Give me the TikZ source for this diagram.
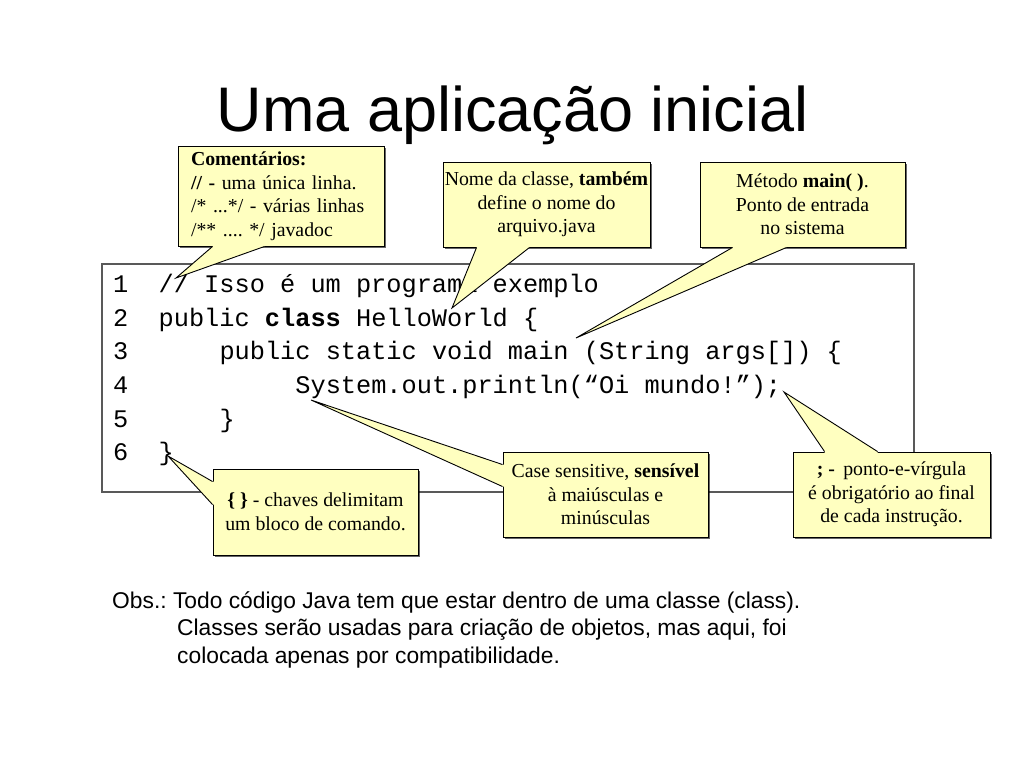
\documentclass[tikz,border=0pt]{standalone}
\usepackage{fontspec}
\setmainfont{Liberation Serif}
\setsansfont{Liberation Sans}
\setmonofont{Liberation Mono}
\usetikzlibrary{shadows}
\definecolor{amarelo}{RGB}{255,255,192}
\frenchspacing
\tikzset{x=1pt,y=-1pt,
  balao/.style={draw=black,fill=amarelo,line width=0.9pt,inner sep=0pt,align=center,
    font=\fontsize{19.8}{23.5}\selectfont,
    drop shadow={shadow xshift=1.5pt,shadow yshift=-1.5pt,opacity=0.6,fill=black}},
  ponta/.style={draw=black,line width=0.9pt},
  codigo/.style={anchor=base west,inner sep=0pt,font=\ttfamily\fontsize{25.3}{30}\selectfont},
  obs/.style={anchor=base west,inner sep=0pt,font=\sffamily\fontsize{22.8}{27}\selectfont}}
\begin{document}
\begin{tikzpicture}
    \useasboundingbox (0,0) rectangle (1024,768);
    \node[anchor=base,inner sep=0pt,font=\sffamily\fontsize{63}{70}\selectfont] (titulo) at (512.5,131.5) {Uma aplicação inicial};
    % codigo
    \node[draw=black!65,line width=1.2pt,minimum width=812,minimum height=228,inner sep=0pt] (caixa) at (508,378) {};
    \foreach \i/\y in {1/292,2/326,3/359.5,4/393,5/427,6/460.5}
      \node[codigo] (n\i) at (113,\y) {\i};
    \node[codigo] (c1) at (158.5,292) {// Isso é um programa exemplo};
    \node[codigo] (c2) at (158.5,326) {public \textbf{class} HelloWorld \{};
    \node[codigo] (c3) at (219.3,359.5) {public static void main (String args[]) \{};
    \node[codigo] (c4) at (295.2,393) {System.out.println(“Oi mundo!”);};
    \node[codigo] (c5) at (219.3,427) {\}};
    \node[codigo] (c6) at (158.5,460.5) {\}};
    % pontas dos baloes
    \coordinate (t-com) at (176,278);
    \coordinate (t-nome) at (452,308);
    \coordinate (t-main) at (576,338);
    \coordinate (t-case) at (311,400);
    \coordinate (t-ponto) at (784,392);
    \coordinate (t-chaves) at (168,456);
    % baloes
    \node[balao,minimum width=206,minimum height=100,text width=180,align=left] (com) at (281,196)
      {\textbf{Comentários:}\\ \textbf{// -} uma única linha.\\ /* ...*/ - várias linhas\\ /** .... */ javadoc};
    \fill[amarelo] ([xshift=35pt]com.south west) -- (t-com) -- ([xshift=87pt]com.south west) -- ([xshift=87pt,yshift=1.5pt]com.south west) -- ([xshift=35pt,yshift=1.5pt]com.south west) -- cycle;
    \draw[ponta] ([xshift=35pt]com.south west) -- (t-com) -- ([xshift=87pt]com.south west);
    \node[balao,minimum width=207,minimum height=85] (nome) at (546.5,204.5)
      {Nome da classe, \textbf{também}\\ define o nome do\\ arquivo.java};
    \fill[amarelo] ([xshift=34pt]nome.south west) -- (t-nome) -- ([xshift=87pt]nome.south west) -- ([xshift=87pt,yshift=1.5pt]nome.south west) -- ([xshift=34pt,yshift=1.5pt]nome.south west) -- cycle;
    \draw[ponta] ([xshift=34pt]nome.south west) -- (t-nome) -- ([xshift=87pt]nome.south west);
    \node[balao,minimum width=205,minimum height=85] (main) at (802.5,204.5)
      {Método \textbf{main( )}.\\ Ponto de entrada\\ no sistema};
    \fill[amarelo] ([xshift=33pt]main.south west) -- (t-main) -- ([xshift=87pt]main.south west) -- ([xshift=87pt,yshift=1.5pt]main.south west) -- ([xshift=33pt,yshift=1.5pt]main.south west) -- cycle;
    \draw[ponta] ([xshift=33pt]main.south west) -- (t-main) -- ([xshift=87pt]main.south west);
    \node[balao,minimum width=205,minimum height=85] (case) at (605.5,494.5)
      {Case sensitive, \textbf{sensível}\\ à maiúsculas e\\ minúsculas};
    \fill[amarelo] ([yshift=-13pt]case.north west) -- (t-case) -- ([yshift=-35pt]case.north west) -- ([xshift=1.5pt,yshift=-35pt]case.north west) -- ([xshift=1.5pt,yshift=-13pt]case.north west) -- cycle;
    \draw[ponta] ([yshift=-13pt]case.north west) -- (t-case) -- ([yshift=-35pt]case.north west);
    \node[balao,minimum width=197,minimum height=85] (ponto) at (891.5,494.5)
      {\textbf{; -}\, ponto-e-vírgula\\ é obrigatório ao final\\ de cada instrução.};
    \fill[amarelo] ([xshift=32pt]ponto.north west) -- (t-ponto) -- ([xshift=85pt]ponto.north west) -- ([xshift=85pt,yshift=-1.5pt]ponto.north west) -- ([xshift=32pt,yshift=-1.5pt]ponto.north west) -- cycle;
    \draw[ponta] ([xshift=32pt]ponto.north west) -- (t-ponto) -- ([xshift=85pt]ponto.north west);
    \node[balao,minimum width=205,minimum height=86] (chaves) at (315.5,512)
      {\textbf{\{ \}} - chaves delimitam\\ um bloco de comando.};
    \fill[amarelo] ([yshift=-13pt]chaves.north west) -- (t-chaves) -- ([yshift=-36pt]chaves.north west) -- ([xshift=1.5pt,yshift=-36pt]chaves.north west) -- ([xshift=1.5pt,yshift=-13pt]chaves.north west) -- cycle;
    \draw[ponta] ([yshift=-13pt]chaves.north west) -- (t-chaves) -- ([yshift=-36pt]chaves.north west);
    % observacao
    \node[obs] (obs1) at (112,608) {Obs.: Todo código Java tem que estar dentro de uma classe (class).};
    \node[obs] (obs2) at (177,635.5) {Classes serão usadas para criação de objetos, mas aqui, foi};
    \node[obs] (obs3) at (177,663) {colocada apenas por compatibilidade.};
\end{tikzpicture}
\end{document}
